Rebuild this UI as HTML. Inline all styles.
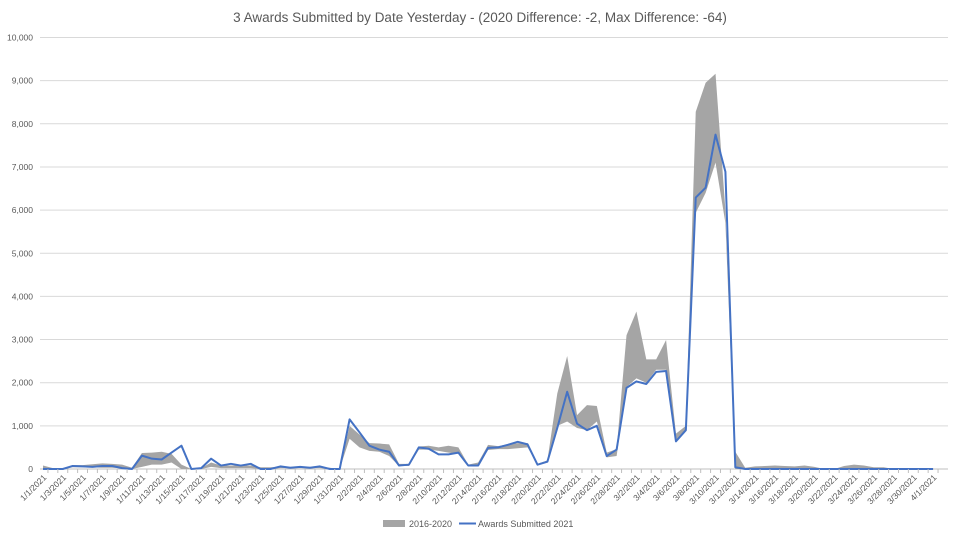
<!DOCTYPE html>
<html><head><meta charset="utf-8"><style>
body{margin:0;background:#fff;width:960px;height:540px;overflow:hidden;font-family:"Liberation Sans",sans-serif}
</style></head><body>
<svg id="chart" width="960" height="540" xmlns="http://www.w3.org/2000/svg" font-family="Liberation Sans, sans-serif">
<rect width="960" height="540" fill="#fff"/>
<text x="480" y="22" text-anchor="middle" font-size="13.5" fill="#595959">3 Awards Submitted by Date Yesterday - (2020 Difference: -2, Max Difference: -64)</text>
<g id="grid"></g><g id="band"></g><g id="line"></g><g id="xlabels"></g>
<g>
<rect x="383" y="520" width="22" height="7" fill="#a5a5a5"/>
<text x="409" y="527" font-size="9" fill="#595959">2016-2020</text>
<line x1="459" y1="523.5" x2="476" y2="523.5" stroke="#4472c4" stroke-width="2"/>
<text x="478" y="527" font-size="9" fill="#595959">Awards Submitted 2021</text>
</g>
</svg>
<script>
const blue2021=[0,0,0,70,60,50,70,70,20,0,310,240,220,380,540,0,20,240,80,120,80,120,0,0,60,30,50,30,60,0,0,
1150,850,540,450,400,80,100,500,470,340,340,380,80,80,490,500,560,630,570,100,170,950,1790,1050,900,1000,300,450,
1880,2030,1970,2250,2270,640,900,6290,6520,7750,6890,40,0,0,0,0,0,0,0,0,0,0,0,0,0,0,0,0,0,0,0,0];
const rangeLow=[0,0,0,40,40,40,30,30,20,0,50,100,100,150,0,0,0,50,20,20,20,20,0,0,20,20,20,20,20,0,0,
700,500,420,400,300,70,70,450,450,420,380,350,80,80,440,460,460,480,500,100,150,1000,1100,950,900,1100,270,300,
1900,2100,2000,2300,2300,650,900,5940,6400,7100,5700,0,0,0,0,0,0,0,0,0,0,0,0,0,0,0,0,0,0,0,0,0];
const rangeHigh=[80,20,0,90,90,110,130,120,100,30,370,380,400,350,100,0,20,150,80,80,80,80,40,40,50,50,50,50,50,30,0,
1000,800,600,590,570,120,120,520,540,500,540,500,100,150,560,530,570,600,600,120,200,1750,2620,1250,1480,1460,380,460,
3100,3650,2540,2540,2990,820,1000,8280,8950,9160,6000,400,30,60,70,80,70,60,80,50,0,0,70,100,80,40,40,0,0,0,0,0];
const yTicks=[0,1000,2000,3000,4000,5000,6000,7000,8000,9000,10000];
const dates=[];
(function(){const m=[31,28,31];for(let mo=0;mo<3;mo++)for(let d=1;d<=m[mo];d++)dates.push((mo+1)+"/"+d+"/2021");dates.push("4/1/2021");})();
const NS="http://www.w3.org/2000/svg";
const X0=43,STEP=9.89,Y0=469,YTOP=37.5,YMAX=10000;
const xs=i=>X0+i*STEP;
const ys=v=>Y0-(v/YMAX)*(Y0-YTOP);
function mk(t,a,p){const e=document.createElementNS(NS,t);for(const k in a)e.setAttribute(k,a[k]);p.appendChild(e);return e;}
const grid=document.getElementById('grid');
yTicks.forEach(v=>{
 const l=mk('line',{x1:40,x2:948,y1:ys(v),y2:ys(v),stroke:v===0?'#bfbfbf':'#d9d9d9','stroke-width':1},grid);
 
 
 const t=mk('text',{x:33,y:ys(v)+3,'text-anchor':'end','font-size':8.5,fill:'#595959'},grid);
 
 
 t.textContent=v.toLocaleString('en-US');
});
const band=document.getElementById('band');
let pts=[];
rangeHigh.forEach((v,i)=>pts.push(xs(i)+','+ys(v)));
for(let i=rangeLow.length-1;i>=0;i--)pts.push(xs(i)+','+ys(rangeLow[i]));
const poly=mk('polygon',{points:pts.join(' '),fill:'#a5a5a5'},band);


const line=document.getElementById('line');
const pl=mk('polyline',{points:blue2021.map((v,i)=>xs(i)+','+ys(v)).join(' '),fill:'none',stroke:'#4472c4','stroke-width':2,'stroke-linejoin':'round'},line);


const xl=document.getElementById('xlabels');
dates.forEach((d,i)=>{
 const tk=mk('line',{x1:xs(i)+STEP/2,x2:xs(i)+STEP/2,y1:Y0,y2:Y0+4,stroke:'#bfbfbf'},xl);
 
 
 if(i%2===0){
  const x=xs(i)+4,y=478;
  const t=mk('text',{x:x,y:y,'text-anchor':'end','font-size':8.5,fill:'#595959',transform:'rotate(-45 '+x+' '+y+')'},xl);
  
  
  t.textContent=d;
 }
});
</script>
</body></html>
